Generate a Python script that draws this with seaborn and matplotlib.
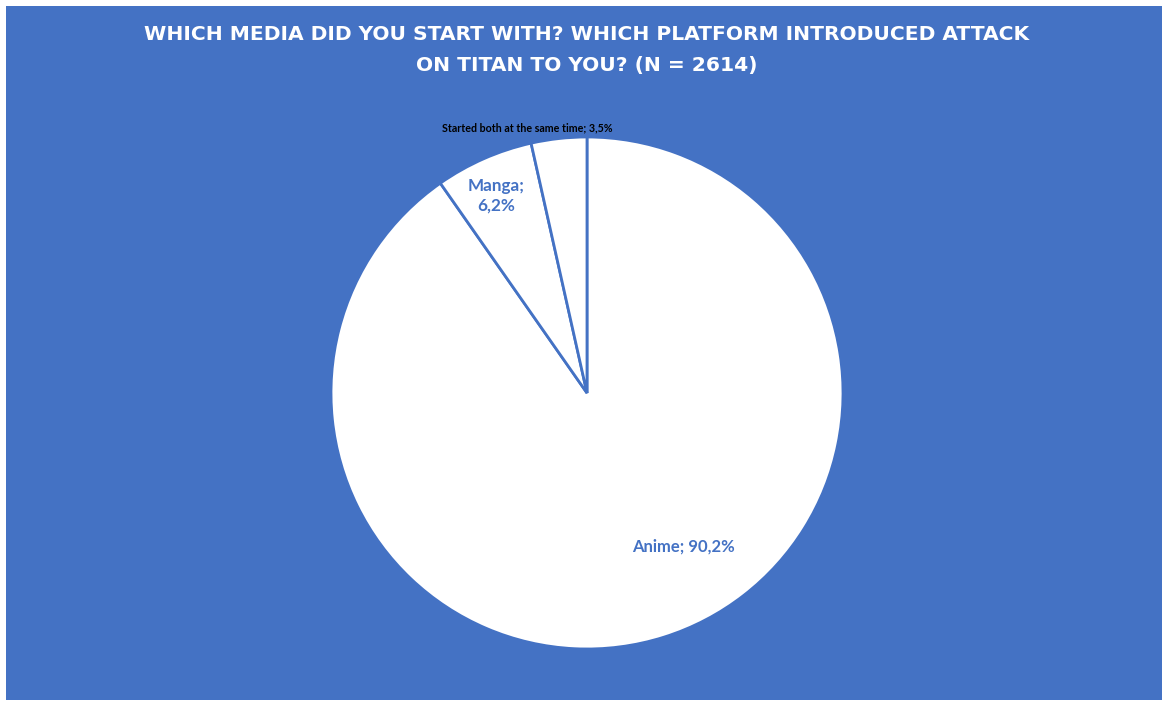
import numpy as np
import pandas as pd
import matplotlib
matplotlib.use("Agg")
import matplotlib.pyplot as plt
from matplotlib.patches import Rectangle
import seaborn as sns

# data
categories = ["Anime", "Manga", "Started both at the same time"]
shares = [90.2, 6.2, 3.5]
pct_labels = ["90,2%", "6,2%", "3,5%"]
title_lines = ["WHICH MEDIA DID YOU START WITH? WHICH PLATFORM INTRODUCED ATTACK",
               "ON TITAN TO YOU? (N = 2614)"]

df = pd.DataFrame({"media": categories, "share": shares, "pct": pct_labels})

sns.set_theme(style="white")
plt.rcParams["font.family"] = ["Lato", "DejaVu Sans"]

blue = "#4472C4"
W, H = 1162, 704
fig = plt.figure(figsize=(W / 100, H / 100), dpi=100, facecolor="white")
# blue chart area with the thin white margin on left/top/bottom
fig.patches.append(Rectangle((6 / W, 4 / H), (W - 6) / W, (H - 10) / H,
                             transform=fig.transFigure, facecolor=blue,
                             edgecolor="none", zorder=-5))

# pie centre (587, 393) px, radius 256 px
cx, cy, R = 587, H - 393, 256
pad = 1.03
ax = fig.add_axes([(cx - R * pad) / W, (cy - R * pad) / H, 2 * R * pad / W, 2 * R * pad / H])
ax.set_facecolor("none")
ax.set_zorder(2)

wedges, _ = ax.pie(df["share"], colors=["white"] * len(df), startangle=90,
                   counterclock=False, radius=1,
                   wedgeprops=dict(edgecolor=blue, linewidth=2))
ax.set_xlim(-pad, pad)
ax.set_ylim(-pad, pad)
ax.set_aspect("equal")
ax.axis("off")

# data labels
ax.text(0.375, -0.60, f"{df.media[0]}; {df.pct[0]}", color=blue, fontsize=12,
        fontweight="bold", ha="center", va="center")
ax.text(-0.355, 0.77, f"{df.media[1]};\n{df.pct[1]}", color=blue, fontsize=12.3,
        fontweight="bold", ha="center", va="center", linespacing=1.3)
ax.text(-0.235, 1.035, f"{df.media[2]}; {df.pct[2]}", color="black", fontsize=7.7,
        fontweight="bold", ha="center", va="center")

title_font = ["DejaVu Sans"]
fig.text(586.5 / W, 1 - 35 / H, title_lines[0], color="white", fontsize=14.6,
         fontweight="bold", ha="center", va="center", family=title_font)
fig.text(586.5 / W, 1 - 66 / H, title_lines[1], color="white", fontsize=14.6,
         fontweight="bold", ha="center", va="center", family=title_font)

fig.savefig("out.png", dpi=100, facecolor="white")
